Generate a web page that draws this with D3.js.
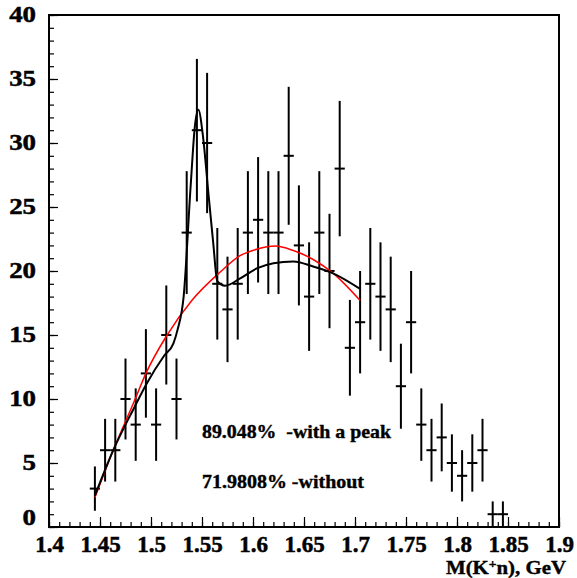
<!DOCTYPE html>
<html>
<head>
<meta charset="utf-8">
<script src="https://cdn.jsdelivr.net/npm/d3@7/dist/d3.min.js"></script>
<style>
  html, body { margin: 0; padding: 0; background: #fff; }
  svg { display: block; }
  .lbl { font-family: "Liberation Serif", "Times New Roman", serif; font-weight: 700; fill: #000; stroke: #000; }
</style>
</head>
<body>
<svg id="chart" width="577" height="578"></svg>
<script>
// ---- data ----
const binCenters = [1.445,1.455,1.465,1.475,1.485,1.495,1.505,1.515,1.525,1.535,
                    1.545,1.555,1.565,1.575,1.585,1.595,1.605,1.615,1.625,1.635,
                    1.645,1.655,1.665,1.675,1.685,1.695,1.705,1.715,1.725,1.735,
                    1.745,1.755,1.765,1.775,1.785,1.795,1.805,1.815,1.825,1.835,1.845];
const counts = [3,6,6,10,8,12,8,15,10,23,
                31,30,19,17,19,23,24,23,23,29,
                22,18,23,20,28,14,16,19,18,17,
                11,16,8,6,7,5,4,5,6,1,1];
const errors = [1.73,2.45,2.45,3.16,2.83,3.46,2.83,3.87,3.16,4.80,
                5.57,5.48,4.36,4.12,4.36,4.80,4.90,4.80,4.80,5.39,
                4.69,4.24,4.80,4.47,5.29,3.74,4.00,4.36,4.24,4.12,
                3.32,4.00,2.83,2.45,2.65,2.24,2.00,2.24,2.45,1.00,1.00];
const binWidth = 0.01;

// fit with a peak (black)
const peakFitX = [1.445,1.463,1.484,1.495,1.513,1.522,1.526,1.532,1.539,1.543,1.5464,
                  1.551,1.556,1.561,1.565,1.5725,1.587,1.6036,1.62,1.6395,1.659,1.679,1.705];
const peakFitY = [2.45,6.0,9.4,11.1,13.4,14.35,15.4,18.0,26.8,31.3,32.6,
                  30.5,26.3,22.2,19.2,18.85,19.4,20.2,20.6,20.75,20.35,19.8,18.6];
// fit without a peak (red)
const bgFitX = [1.445,1.463,1.484,1.495,1.515,1.540,1.5676,1.5873,1.6036,1.622,1.6395,1.659,1.679,1.705];
const bgFitY = [2.3,6.0,9.9,12.0,14.9,17.7,19.9,21.2,21.7,21.95,21.6,20.9,19.8,17.7];

const xMajorTicks = [1.4,1.45,1.5,1.55,1.6,1.65,1.7,1.75,1.8,1.85,1.9];
const xTickLabels = ["1.4","1.45","1.5","1.55","1.6","1.65","1.7","1.75","1.8","1.85","1.9"];
const yMajorTicks = [0,5,10,15,20,25,30,35,40];
const annotations = ["89.048%  -with a peak", "71.9808% -without"];

// ---- layout ----
const svg = d3.select("#chart");
const mLeft = 49, mRight = 559, mTop = 15, mBottom = 527;
const x = d3.scaleLinear().domain([1.4, 1.9]).range([mLeft, mRight]);
const y = d3.scaleLinear().domain([0, 40]).range([mBottom, mTop]);

svg.append("rect").attr("width", 577).attr("height", 578).attr("fill", "#fff");

// minor ticks
const xMinor = d3.range(0, 51).map(i => 1.4 + i * 0.01);
const yMinor = d3.range(0, 41);
svg.append("g").attr("transform", `translate(0,${mBottom})`)
  .call(d3.axisBottom(x).tickValues(xMinor).tickSize(-5).tickFormat(""))
  .call(g => g.select(".domain").remove())
  .selectAll("line").attr("stroke", "#000").attr("stroke-width", 1.2);
svg.append("g").attr("transform", `translate(${mLeft},0)`)
  .call(d3.axisLeft(y).tickValues(yMinor).tickSize(-5).tickFormat(""))
  .call(g => g.select(".domain").remove())
  .selectAll("line").attr("stroke", "#000").attr("stroke-width", 1.2);

// major x axis
const gx = svg.append("g").attr("transform", `translate(0,${mBottom})`)
  .call(d3.axisBottom(x).tickValues(xMajorTicks).tickSize(-10)
        .tickFormat((d, i) => xTickLabels[i]));
gx.select(".domain").remove();
gx.selectAll("line").attr("stroke", "#000").attr("stroke-width", 1.2);
gx.selectAll("text").attr("class", "lbl").attr("y", 25).attr("dy", 0)
  .attr("font-size", 23).attr("stroke-width", 0.5);

// major y axis
const gy = svg.append("g").attr("transform", `translate(${mLeft},0)`)
  .call(d3.axisLeft(y).tickValues(yMajorTicks).tickSize(-9).tickPadding(13));
gy.select(".domain").remove();
gy.selectAll("line").attr("stroke", "#000").attr("stroke-width", 1.2);
gy.selectAll("text").attr("class", "lbl").attr("dy", "0.25em")
  .attr("font-size", 24).attr("stroke-width", 0.5)
  .attr("x", 0).attr("transform", "translate(-13,0) scale(1.12,1)");
gy.selectAll(".tick").filter(d => d === 0).select("text").attr("dy", "-0.1em");

// frame
svg.append("rect").attr("x", mLeft).attr("y", mTop)
  .attr("width", mRight - mLeft).attr("height", mBottom - mTop)
  .attr("fill", "none").attr("stroke", "#000").attr("stroke-width", 2);

// data points with error bars
const pts = svg.append("g").attr("stroke", "#000").attr("stroke-width", 2);
binCenters.forEach((c, i) => {
  const v = counts[i], e = errors[i];
  pts.append("line")
    .attr("x1", x(c)).attr("x2", x(c))
    .attr("y1", y(Math.max(0, v - e))).attr("y2", y(v + e));
  pts.append("line")
    .attr("x1", x(c - binWidth / 2)).attr("x2", x(c + binWidth / 2))
    .attr("y1", y(v)).attr("y2", y(v));
});

// fits
const line = d3.line().x(d => x(d[0])).y(d => y(d[1])).curve(d3.curveMonotoneX);
svg.append("path").datum(bgFitX.map((v, i) => [v, bgFitY[i]]))
  .attr("d", line).attr("fill", "none").attr("stroke", "#ff0000").attr("stroke-width", 1.5);
svg.append("path").datum(peakFitX.map((v, i) => [v, peakFitY[i]]))
  .attr("d", line).attr("fill", "none").attr("stroke", "#000").attr("stroke-width", 2);

// annotations
svg.append("text").attr("class", "lbl").attr("x", 202).attr("y", 438).attr("font-size", 19)
  .attr("stroke-width", 0.4).style("white-space", "pre")
  .attr("textLength", 189).attr("lengthAdjust", "spacingAndGlyphs").text(annotations[0]);
svg.append("text").attr("class", "lbl").attr("x", 202).attr("y", 488).attr("font-size", 19)
  .attr("stroke-width", 0.4).style("white-space", "pre")
  .attr("textLength", 162).attr("lengthAdjust", "spacingAndGlyphs").text(annotations[1]);

// axis title
const title = svg.append("text").attr("class", "lbl").attr("x", 566).attr("y", 573.5)
  .attr("text-anchor", "end").attr("font-size", 18.5).attr("stroke-width", 0.4)
  .attr("textLength", 120).attr("lengthAdjust", "spacingAndGlyphs");
title.append("tspan").text("M(K");
title.append("tspan").attr("dy", -6).attr("font-size", 12).text("+");
title.append("tspan").attr("dy", 6).text("n), GeV");
</script>
</body>
</html>
